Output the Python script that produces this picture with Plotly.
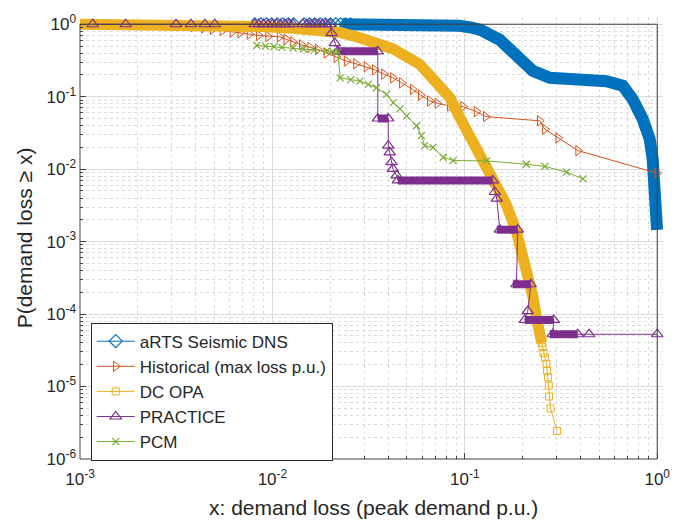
import plotly.graph_objects as go

# ---------------- data ----------------
# aRTS Seismic DNS: sparse diamonds at the top, then a dense band
arts_pts_x = [0.0081, 0.0087, 0.0093, 0.0099, 0.0106, 0.0113, 0.0121, 0.0129, 0.0146,
              0.0156, 0.0166, 0.0177, 0.0188, 0.0200, 0.0213, 0.0226, 0.0240, 0.0255]
arts_pts_y = [1.0] * len(arts_pts_x)
arts_band_x = [0.0230, 0.030, 0.045, 0.060, 0.075, 0.094, 0.110, 0.120, 0.152, 0.1855,
               0.2255, 0.2765, 0.380, 0.545, 0.662, 0.746, 0.841, 0.914, 0.947, 0.970,
               0.990, 0.998]
arts_band_y = [1.0, 1.0, 1.0, 0.99, 0.98, 0.95, 0.89, 0.84, 0.61, 0.361,
               0.227, 0.182, 0.1726, 0.164, 0.1415, 0.092, 0.0489, 0.026, 0.0138, 0.006,
               0.00258, 0.00145]

# Historical (max loss p.u.)
hist_x = [0.00343, 0.0039, 0.0044, 0.0049, 0.0055, 0.0062, 0.0068, 0.0076, 0.0085, 0.0095,
          0.0109, 0.0118, 0.0128, 0.0142, 0.0157, 0.0172, 0.0191, 0.0215, 0.0243, 0.0272,
          0.0308, 0.0340, 0.0380, 0.0423, 0.0470, 0.0537, 0.0590, 0.0658, 0.0720, 0.0836,
          0.0980, 0.1150, 0.1285, 0.2450, 0.2606, 0.3055, 0.3880, 1.0]
hist_y = [0.97, 0.93, 0.89, 0.85, 0.82, 0.78, 0.76, 0.73, 0.70, 0.68,
          0.67, 0.62, 0.57, 0.52, 0.48, 0.45, 0.40, 0.35, 0.31, 0.285,
          0.258, 0.235, 0.205, 0.182, 0.155, 0.126, 0.105, 0.0873, 0.081, 0.0746,
          0.073, 0.0623, 0.0532, 0.0465, 0.0356, 0.027, 0.018, 0.0088]

# DC OPA: dense band, then sparse squares in the tail
opa_band_x = [0.001, 0.005, 0.0086, 0.0128, 0.0191, 0.0225, 0.0285, 0.0423, 0.0583, 0.0741,
              0.0836, 0.0942, 0.110, 0.1297, 0.146, 0.1646, 0.1855, 0.209, 0.2255, 0.2393,
              0.251]
opa_band_y = [1.0, 0.99, 0.93, 0.88, 0.80, 0.77, 0.65, 0.46, 0.28, 0.148,
              0.097, 0.0516, 0.0234, 0.01135, 0.00604, 0.00321, 0.00137, 0.000455, 0.000177, 7.3e-5,
              4.0e-5]
opa_tail_x = [0.251, 0.2535, 0.2565, 0.2606, 0.2657, 0.2675, 0.2708, 0.2730, 0.2740, 0.2788, 0.3016]
opa_tail_y = [4.0e-5, 3.5e-5, 2.9e-5, 2.52e-5, 2.06e-5, 1.66e-5, 1.34e-5, 1.03e-5, 7.3e-6, 5.0e-6, 2.44e-6]

# PRACTICE: step-like curve
prac_x = [0.001164, 0.001727, 0.003155, 0.003776, 0.004457, 0.005024,
          0.0081, 0.0085, 0.0090, 0.0095, 0.0100, 0.0105, 0.0110, 0.0116, 0.0122, 0.0128,
          0.0144, 0.0151, 0.0158, 0.0166, 0.0174, 0.0182, 0.0190, 0.0199,
          0.0203, 0.0211, 0.0219, 0.0353,
          0.0353, 0.0400,
          0.0400, 0.0407, 0.0416, 0.0423, 0.0442, 0.0449, 0.1396,
          0.1432, 0.1466, 0.1520, 0.1884,
          0.1855, 0.2203,
          0.2124, 0.2050, 0.2900,
          0.2864, 0.3864, 0.4427, 1.0]
prac_y = [1.0, 1.0, 1.0, 1.0, 1.0, 1.0,
          1.0, 1.0, 1.0, 1.0, 1.0, 1.0, 1.0, 1.0, 1.0, 1.0,
          1.0, 1.0, 1.0, 1.0, 1.0, 1.0, 1.0, 1.0,
          0.753, 0.55, 0.423, 0.423,
          0.05, 0.05,
          0.0211, 0.0171, 0.0125, 0.0101, 0.0082, 0.007, 0.007,
          0.00484, 0.00392, 0.00146, 0.00146,
          0.000258, 0.000258,
          0.00011, 8.3e-5, 8.3e-5,
          5.27e-5, 5.27e-5, 5.27e-5, 5.27e-5]
# dense plateaus of PRACTICE markers (start x, end x, level)
prac_bar_x0 = [0.0219, 0.0353, 0.0449, 0.1466, 0.1775, 0.2050, 0.2766]
prac_bar_x1 = [0.0353, 0.0400, 0.1396, 0.1884, 0.2203, 0.2900, 0.3864]
prac_bar_y = [0.423, 0.05, 0.007, 0.00146, 0.000258, 8.3e-5, 5.27e-5]

# PCM
pcm_x = [0.0083, 0.0092, 0.0102, 0.0112, 0.0128, 0.0145, 0.0165, 0.0191, 0.0205, 0.0219,
         0.0225, 0.0255, 0.0285, 0.0315, 0.0347, 0.0392, 0.0425, 0.0460, 0.0498, 0.0561,
         0.0595, 0.0619, 0.0684, 0.0772, 0.0869, 0.1297, 0.2090, 0.2606, 0.3375, 0.4115]
pcm_y = [0.51, 0.50, 0.49, 0.48, 0.47, 0.455, 0.44, 0.425, 0.42, 0.415,
         0.182, 0.172, 0.164, 0.148, 0.133, 0.1076, 0.0828, 0.068, 0.0544, 0.0397,
         0.029, 0.0211, 0.020, 0.0146, 0.01315, 0.013, 0.0117, 0.0109, 0.0091, 0.00736]

x_ticks = [1e-3, 1e-2, 1e-1, 1.0]
x_ticktext = ["10<sup>-3</sup>", "10<sup>-2</sup>", "10<sup>-1</sup>", "10<sup>0</sup>"]
y_ticks = [1e-6, 1e-5, 1e-4, 1e-3, 1e-2, 1e-1, 1.0]
y_ticktext = ["10<sup>-6</sup>", "10<sup>-5</sup>", "10<sup>-4</sup>", "10<sup>-3</sup>",
              "10<sup>-2</sup>", "10<sup>-1</sup>", "10<sup>0</sup>"]
x_title = "x: demand loss (peak demand p.u.)"
y_title = "P(demand loss ≥ x)"

# ---------------- styling ----------------
BLUE, RED, YEL, PUR, GRN = "#0072BD", "#D95319", "#EDB120", "#7E2F8E", "#77AC30"
XR = [-3, 0.03]
YR = [-6, 0.1]

fig = go.Figure()

# aRTS band + markers
fig.add_trace(go.Scatter(x=arts_band_x, y=arts_band_y, mode="lines", showlegend=False,
                         line=dict(color=BLUE, width=12), hoverinfo="skip"))
fig.add_trace(go.Scatter(x=arts_pts_x, y=arts_pts_y, mode="lines+markers", name="aRTS Seismic DNS",
                         line=dict(color=BLUE, width=1),
                         marker=dict(symbol="diamond-open", size=10, color=BLUE, line=dict(width=1.2)),
                         cliponaxis=False))
# Historical
fig.add_trace(go.Scatter(x=hist_x, y=hist_y, mode="lines+markers", name="Historical (max loss p.u.)",
                         line=dict(color=RED, width=1),
                         marker=dict(symbol="triangle-right-open", size=9, color=RED, line=dict(width=1)),
                         cliponaxis=False))
# DC OPA
fig.add_trace(go.Scatter(x=opa_band_x, y=opa_band_y, mode="lines", showlegend=False,
                         line=dict(color=YEL, width=11), hoverinfo="skip"))
fig.add_trace(go.Scatter(x=opa_tail_x, y=opa_tail_y, mode="lines+markers", name="DC OPA",
                         line=dict(color=YEL, width=1),
                         marker=dict(symbol="square-open", size=7, color=YEL, line=dict(width=1)),
                         cliponaxis=False))
# PRACTICE plateaus
bx, by = [], []
for a, b, c in zip(prac_bar_x0, prac_bar_x1, prac_bar_y):
    bx += [a, b, None]
    by += [c, c, None]
fig.add_trace(go.Scatter(x=bx, y=by, mode="lines", showlegend=False,
                         line=dict(color=PUR, width=8), hoverinfo="skip"))
fig.add_trace(go.Scatter(x=prac_x, y=prac_y, mode="lines+markers", name="PRACTICE",
                         line=dict(color=PUR, width=1),
                         marker=dict(symbol="triangle-up-open", size=10, color=PUR, line=dict(width=1.2)),
                         cliponaxis=False))
# PCM
fig.add_trace(go.Scatter(x=pcm_x, y=pcm_y, mode="lines+markers", name="PCM",
                         line=dict(color=GRN, width=1),
                         marker=dict(symbol="x-thin", size=7, color=GRN, line=dict(width=1.2, color=GRN)),
                         cliponaxis=False))

AXCOL = "#404040"
common = dict(type="log", showline=False, ticks="inside", ticklen=6, tickcolor=AXCOL,
              showgrid=True, gridcolor="#dadada", gridwidth=1, zeroline=False,
              tickfont=dict(size=17, color="#262626"),
              minor=dict(ticks="inside", ticklen=3, tickcolor=AXCOL, showgrid=True,
                         gridcolor="#dcdcdc", griddash="dot", dtick="D1"))
fig.update_xaxes(range=XR, tickmode="array", tickvals=x_ticks, ticktext=x_ticktext,
                 ticklabelstandoff=8, **common)
fig.update_yaxes(range=YR, tickmode="array", tickvals=y_ticks, ticktext=y_ticktext,
                 ticklabelstandoff=3,
                 title=dict(text=y_title, font=dict(size=21, color="#262626"), standoff=8),
                 **common)

fx = (0 - XR[0]) / (XR[1] - XR[0])
fy = (0 - YR[0]) / (YR[1] - YR[0])
shapes = [
    dict(type="rect", xref="paper", yref="paper", x0=fx, x1=1, y0=0, y1=1,
         fillcolor="white", line=dict(width=0), layer="between"),
    dict(type="rect", xref="paper", yref="paper", x0=0, x1=1, y0=fy, y1=1,
         fillcolor="white", line=dict(width=0), layer="between"),
    dict(type="rect", xref="paper", yref="paper", x0=0, x1=fx, y0=0, y1=fy,
         line=dict(color=AXCOL, width=1), layer="above"),
]

fig.update_layout(
    width=682, height=520,
    margin=dict(l=80, r=19, t=14, b=61),
    plot_bgcolor="white", paper_bgcolor="white",
    font=dict(family="Liberation Sans, Arial, sans-serif", color="#262626"),
    shapes=shapes,
    annotations=[dict(text=x_title, xref="paper", yref="paper", x=0.504, y=-0.11,
                      xanchor="center", yanchor="middle", showarrow=False,
                      font=dict(size=21, color="#262626"))],
    legend=dict(x=0.0184, y=0.3085, xanchor="left", yanchor="top",
                bgcolor="white", bordercolor="#262626", borderwidth=1,
                font=dict(size=17, color="#262626"), tracegroupgap=0, itemwidth=38),
)

fig.write_html("out.html")
